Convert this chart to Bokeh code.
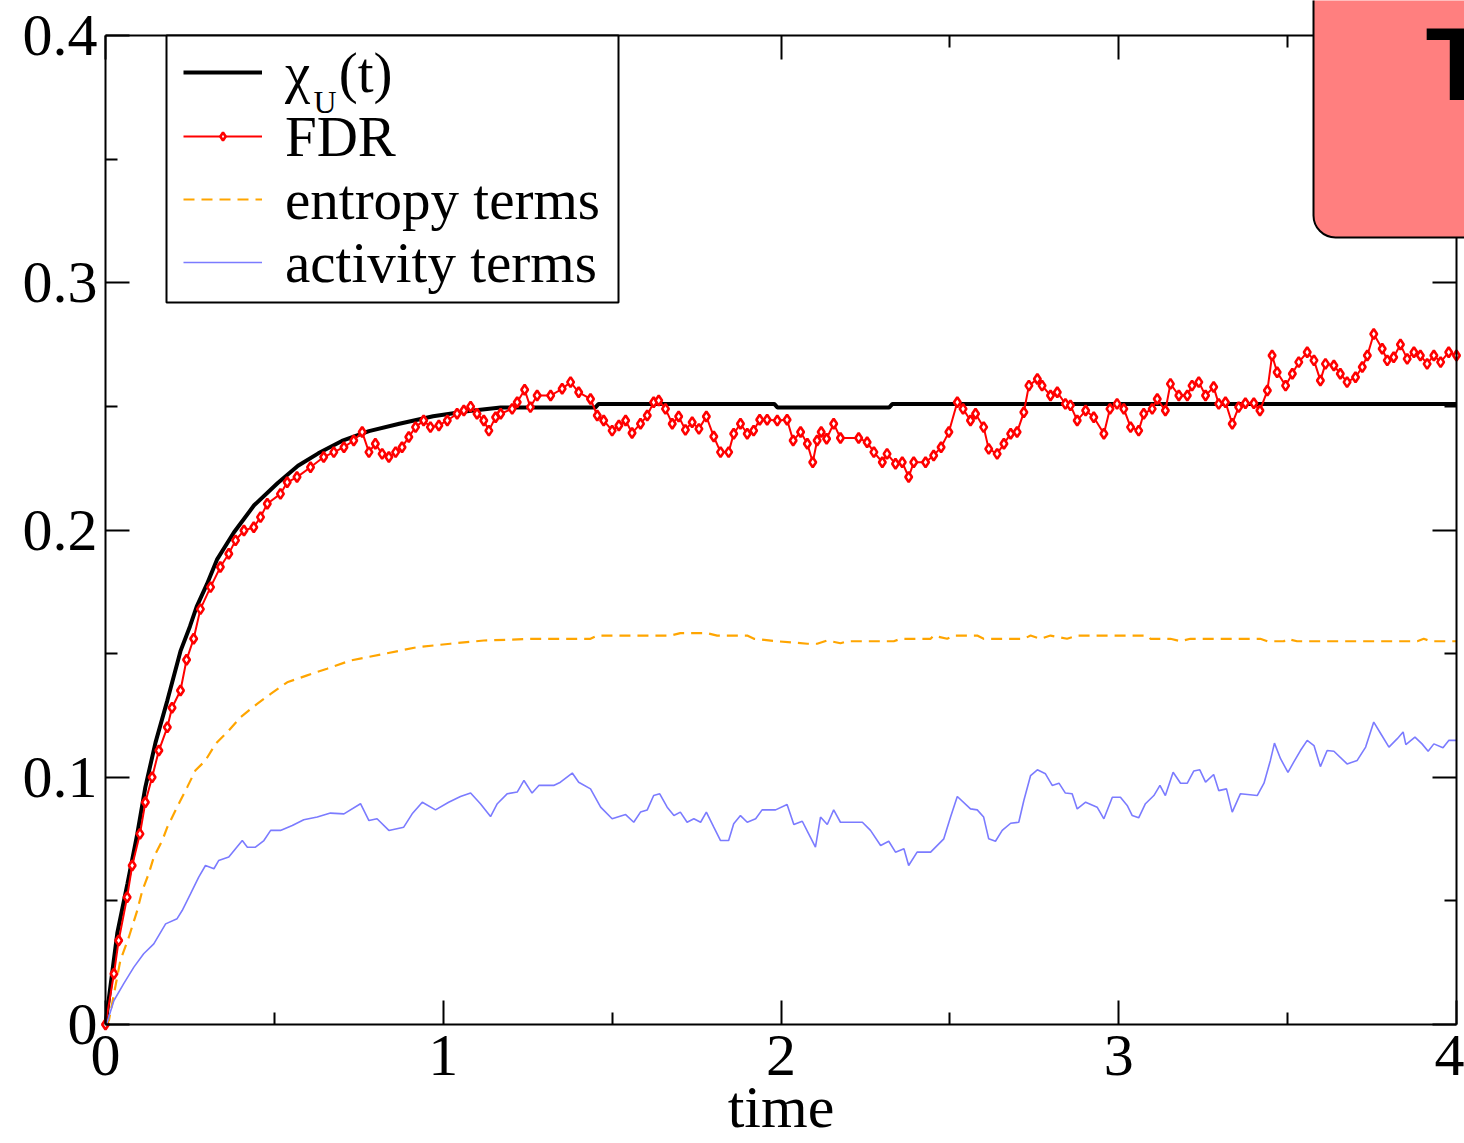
from bokeh.plotting import figure
from bokeh.models import (Range1d, FixedTicker, LinearAxis, Legend, LegendItem,
                          Label, BoxAnnotation, CustomJSTickFormatter)
from bokeh.embed import file_html
from bokeh.resources import INLINE

# ---------------- data ----------------
x_ticks = [0, 1, 2, 3, 4]
x_minor = [0.5, 1.5, 2.5, 3.5]
x_tick_labels = ["0", "1", "2", "3", "4"]
y_ticks = [0, 0.1, 0.2, 0.3, 0.4]
y_minor = [0.05, 0.15, 0.25, 0.35]
y_tick_labels = ["0", "0.1", "0.2", "0.3", "0.4"]

t_chi = [0, 0.035, 0.065, 0.094, 0.118, 0.148, 0.183, 0.222, 0.25, 0.27, 0.30, 0.33,
         0.38, 0.44, 0.51, 0.57, 0.63, 0.70, 0.78, 0.87, 0.97, 1.07, 1.17, 1.45, 1.46,
         1.98, 1.99, 2.32, 2.33, 4.0]
chi_u = [0, 0.037, 0.057, 0.077, 0.096, 0.114, 0.131, 0.151, 0.161, 0.169, 0.178, 0.188,
         0.199, 0.210, 0.219, 0.226, 0.231, 0.236, 0.240, 0.243, 0.246, 0.248, 0.2495, 0.2495, 0.251,
         0.251, 0.2495, 0.2495, 0.251, 0.251]

t_fdr = [0, 0.025, 0.039, 0.064, 0.079, 0.102, 0.118, 0.138, 0.158, 0.183, 0.197, 0.222,
         0.240, 0.261, 0.281, 0.311, 0.340, 0.365, 0.385, 0.410, 0.439, 0.459, 0.479, 0.518,
         0.538, 0.567, 0.607, 0.646, 0.676, 0.706, 0.735, 0.760, 0.780, 0.799, 0.819, 0.839,
         0.859, 0.878, 0.898, 0.918, 0.942, 0.962, 0.987, 1.012, 1.041, 1.061, 1.081, 1.100,
         1.120, 1.135, 1.155, 1.170, 1.204, 1.219, 1.241, 1.258, 1.278, 1.318, 1.352, 1.377,
         1.401, 1.436, 1.456, 1.475, 1.500, 1.520, 1.540, 1.559, 1.584, 1.604, 1.623, 1.638,
         1.658, 1.678, 1.697, 1.717, 1.737, 1.757, 1.779, 1.801, 1.821, 1.845, 1.860, 1.880,
         1.900, 1.919, 1.937, 1.959, 1.989, 2.018, 2.036, 2.058, 2.078, 2.094, 2.107, 2.119,
         2.135, 2.156, 2.176, 2.230, 2.255, 2.275, 2.300, 2.314, 2.339, 2.359, 2.378, 2.393,
         2.428, 2.452, 2.474, 2.497, 2.522, 2.539, 2.561, 2.576, 2.600, 2.615, 2.640, 2.660,
         2.680, 2.699, 2.719, 2.734, 2.759, 2.773, 2.798, 2.818, 2.842, 2.857, 2.877, 2.902,
         2.926, 2.956, 2.974, 2.995, 3.015, 3.035, 3.059, 3.074, 3.099, 3.114, 3.138, 3.153,
         3.178, 3.203, 3.217, 3.237, 3.257, 3.281, 3.296, 3.316, 3.336, 3.355, 3.375, 3.400,
         3.418, 3.440, 3.454, 3.469, 3.494, 3.514, 3.533, 3.558, 3.578, 3.597, 3.612, 3.637,
         3.656, 3.676, 3.701, 3.721, 3.736, 3.755, 3.780, 3.795, 3.814, 3.834, 3.854, 3.874,
         3.893, 3.913, 3.933, 3.953, 3.977, 4.000]
fdr = [0, 0.0205, 0.034, 0.0515, 0.0643, 0.0771, 0.0899, 0.100, 0.1108, 0.1202, 0.1281, 0.1351,
       0.1475, 0.156, 0.168, 0.1769, 0.185, 0.1904, 0.1958, 0.1998, 0.2011, 0.2052, 0.2106, 0.2146,
       0.2193, 0.2214, 0.2254, 0.2295, 0.2315, 0.2335, 0.2362, 0.2396, 0.2315, 0.2349, 0.2308, 0.2295,
       0.2315, 0.2335, 0.2376, 0.2416, 0.2443, 0.2416, 0.2423, 0.2443, 0.247, 0.2483, 0.2499, 0.247,
       0.2443, 0.2402, 0.2456, 0.247, 0.249, 0.2517, 0.2567, 0.2497, 0.2544, 0.2544, 0.2571, 0.2598,
       0.2557, 0.253, 0.2463, 0.2443, 0.2402, 0.2423, 0.2443, 0.2392, 0.243, 0.2463, 0.2517, 0.2524,
       0.249, 0.243, 0.2459, 0.2405, 0.2436, 0.2409, 0.2459, 0.2378, 0.2315, 0.2315, 0.2389, 0.243,
       0.2389, 0.2402, 0.2446, 0.2446, 0.2443, 0.2446, 0.2362, 0.2396, 0.2349, 0.2274, 0.2362, 0.2396,
       0.2369, 0.243, 0.2372, 0.2372, 0.2355, 0.2315, 0.2274, 0.2308, 0.2268, 0.2274, 0.2214, 0.2274,
       0.2274, 0.2301, 0.2335, 0.2396, 0.2517, 0.249, 0.2443, 0.247, 0.2416, 0.2328, 0.2308, 0.2349,
       0.2389, 0.2396, 0.2476, 0.2584, 0.2611, 0.2584, 0.2544, 0.2557, 0.251, 0.2504, 0.2443, 0.2483,
       0.2456, 0.2389, 0.249, 0.251, 0.249, 0.2416, 0.2402, 0.247, 0.249, 0.253, 0.2483, 0.2591,
       0.2544, 0.2544, 0.2584, 0.2598, 0.2544, 0.2578, 0.251, 0.2517, 0.243, 0.2497, 0.2513, 0.2513,
       0.2483, 0.2564, 0.2706, 0.2638, 0.2584, 0.2632, 0.2679, 0.2719, 0.2686, 0.2605, 0.2672, 0.2665,
       0.2632, 0.2598, 0.2618, 0.2659, 0.2706, 0.2793, 0.2733, 0.2686, 0.2699, 0.275, 0.2692, 0.2719,
       0.2706, 0.2672, 0.2706, 0.2679, 0.2719, 0.2706]

t_ent = [0, 0.01, 0.044, 0.069, 0.094, 0.109, 0.128, 0.143, 0.168, 0.183, 0.212, 0.242, 0.266,
         0.296, 0.326, 0.365, 0.40, 0.449, 0.489, 0.538, 0.597, 0.656, 0.725, 0.824, 0.923,
         1.021, 1.12, 1.268, 1.436, 1.456, 1.673, 1.702, 1.781, 1.811, 1.90, 1.92, 1.989, 2.078,
         2.107, 2.136, 2.176, 2.196, 2.334, 2.354, 2.443, 2.452, 2.492, 2.512, 2.581, 2.60,
         2.719, 2.739, 2.768, 2.798, 2.847, 2.877, 3.084, 3.094, 3.153, 3.183, 3.212, 3.419,
         3.44, 3.489, 3.499, 3.528, 3.884, 3.903, 3.923, 4.0]
entropy = [0, 0.0016, 0.0259, 0.0353, 0.0461, 0.0542, 0.061, 0.0677, 0.0744, 0.0798, 0.0879, 0.096,
           0.1027, 0.1068, 0.1135, 0.1189, 0.1243, 0.1297, 0.1337, 0.1384, 0.1412, 0.1439, 0.1472,
           0.1499, 0.1526, 0.154, 0.1553, 0.156, 0.156, 0.1573, 0.1573, 0.1583, 0.1583, 0.1573,
           0.1573, 0.156, 0.155, 0.154, 0.154, 0.1553, 0.1542, 0.155, 0.155, 0.156, 0.156, 0.1573,
           0.156, 0.1573, 0.1573, 0.156, 0.156, 0.1573, 0.156, 0.1573, 0.156, 0.1573, 0.1573, 0.156,
           0.156, 0.155, 0.156, 0.156, 0.155, 0.155, 0.156, 0.155, 0.155, 0.156, 0.155, 0.155]

t_act = [0, 0.005, 0.025, 0.054, 0.084, 0.113, 0.143, 0.178, 0.212, 0.227, 0.252, 0.276, 0.296,
         0.321, 0.335, 0.365, 0.385, 0.405, 0.42, 0.444, 0.469, 0.489, 0.518, 0.553, 0.587, 0.627,
         0.666, 0.706, 0.755, 0.78, 0.804, 0.839, 0.883, 0.908, 0.938, 0.977, 1.016, 1.051, 1.081,
         1.11, 1.14, 1.16, 1.189, 1.219, 1.239, 1.263, 1.283, 1.327, 1.347, 1.382, 1.401, 1.436,
         1.466, 1.5, 1.54, 1.564, 1.584, 1.604, 1.623, 1.641, 1.663, 1.683, 1.702, 1.722, 1.742,
         1.762, 1.779, 1.801, 1.821, 1.845, 1.86, 1.88, 1.9, 1.925, 1.944, 1.984, 2.018, 2.038,
         2.063, 2.082, 2.102, 2.117, 2.137, 2.156, 2.176, 2.241, 2.265, 2.295, 2.319, 2.339, 2.364,
         2.378, 2.403, 2.443, 2.482, 2.502, 2.522, 2.561, 2.581, 2.6, 2.615, 2.635, 2.655, 2.68,
         2.704, 2.719, 2.739, 2.759, 2.783, 2.803, 2.823, 2.842, 2.862, 2.877, 2.902, 2.936, 2.956,
         2.981, 3.005, 3.025, 3.04, 3.059, 3.079, 3.104, 3.122, 3.138, 3.161, 3.183, 3.203, 3.222,
         3.24, 3.257, 3.281, 3.296, 3.319, 3.336, 3.36, 3.41, 3.43, 3.449, 3.461, 3.479, 3.501,
         3.518, 3.538, 3.558, 3.578, 3.597, 3.617, 3.637, 3.676, 3.706, 3.731, 3.755, 3.775, 3.8,
         3.824, 3.842, 3.85, 3.877, 3.898, 3.916, 3.933, 3.96, 3.977, 4.0]
activity = [0, 0.001, 0.0097, 0.0165, 0.0232, 0.0286, 0.0326, 0.0407, 0.0428, 0.0461, 0.0529, 0.0596,
            0.0643, 0.063, 0.0663, 0.0677, 0.0711, 0.0744, 0.0717, 0.0717, 0.0744, 0.0785, 0.0785,
            0.0805, 0.0828, 0.0839, 0.0855, 0.0852, 0.0893, 0.0825, 0.0832, 0.0785, 0.0798, 0.0852,
            0.0899, 0.0868, 0.0899, 0.0922, 0.0936, 0.0893, 0.0841, 0.0893, 0.0933, 0.094, 0.0987,
            0.0936, 0.0967, 0.0967, 0.098, 0.1017, 0.098, 0.0953, 0.0879, 0.0832, 0.0849, 0.0818,
            0.0859, 0.0868, 0.0926, 0.0933, 0.0879, 0.0845, 0.0859, 0.0818, 0.0832, 0.0818, 0.0859,
            0.0798, 0.0744, 0.0744, 0.0812, 0.0845, 0.0818, 0.0832, 0.0868, 0.0868, 0.089, 0.0809,
            0.0822, 0.0771, 0.0717, 0.0839, 0.0809, 0.0868, 0.0818, 0.0818, 0.0785, 0.0724, 0.0741,
            0.0697, 0.0711, 0.0643, 0.0697, 0.0697, 0.0751, 0.0839, 0.0922, 0.0872, 0.0868, 0.0839,
            0.0751, 0.0741, 0.0785, 0.0814, 0.0818, 0.0906, 0.1007, 0.103, 0.1014, 0.0967, 0.0976,
            0.0936, 0.0933, 0.0872, 0.0899, 0.0879, 0.0832, 0.0919, 0.0919, 0.0886, 0.0845, 0.0836,
            0.0893, 0.0926, 0.0967, 0.0926, 0.102, 0.0976, 0.0976, 0.1025, 0.103, 0.098, 0.1011,
            0.0946, 0.0953, 0.0859, 0.0933, 0.0926, 0.0976, 0.1068, 0.1138, 0.1075, 0.102, 0.1061,
            0.1108, 0.1149, 0.1128, 0.1043, 0.1108, 0.1105, 0.1054, 0.1068, 0.1122, 0.1223, 0.1178,
            0.1122, 0.1155, 0.1183, 0.1132, 0.1162, 0.1135, 0.1105, 0.1135, 0.1119, 0.1149, 0.1149]

legend_labels = ["\u03c7\u2002(t)", "FDR", "entropy terms", "activity terms"]

# ---------------- layout (pixels) ----------------
W, H = 1464, 1143
FRAME_L, FRAME_R, FRAME_T, FRAME_B = 105, 1456, 35, 1024   # where the axes box sits
LEG_L, LEG_R, LEG_T, LEG_B = 166, 618, 35, 302             # legend box
ROW_BASELINES = [94, 158, 221, 284]                        # legend text baselines
ROW_H, ROW_BASE = 65.25, 54.75                             # measured legend row metrics
SUB_DROP = 18                                              # subscript drop below baseline

x0, x1 = x_ticks[0], x_ticks[-1]
y0, y1 = y_ticks[0], y_ticks[-1]
px_per_x = (FRAME_R - FRAME_L) / (x1 - x0)
px_per_y = (FRAME_B - FRAME_T) / (y1 - y0)
x_range = Range1d(x0 - FRAME_L / px_per_x, x1 + (W - FRAME_R) / px_per_x)
y_range = Range1d(y0 - (H - FRAME_B) / px_per_y, y1 + FRAME_T / px_per_y)

def sx(px):   # canvas pixel -> data x (for annotations only)
    return x0 + (px - FRAME_L) / px_per_x

def sy(py):   # canvas pixel -> data y (for annotations only)
    return y0 + (FRAME_B - py) / px_per_y

SERIF = "Liberation Serif"
p = figure(width=W, height=H, output_backend="svg", toolbar_location=None,
           x_range=x_range, y_range=y_range, x_axis_label="time",
           min_border=0)
p.background_fill_color = "white"
p.border_fill_color = "white"
p.grid.visible = False
p.outline_line_color = None

def style_axis(ax, show_labels):
    ax.axis_line_color = "black"
    ax.axis_line_width = 2
    ax.major_tick_line_color = "black"
    ax.major_tick_line_width = 2
    ax.minor_tick_line_color = "black"
    ax.minor_tick_line_width = 2
    ax.major_tick_in = 24
    ax.major_tick_out = 0
    ax.minor_tick_in = 12
    ax.minor_tick_out = 0
    if show_labels:
        ax.major_label_text_font = SERIF
        ax.major_label_text_font_size = "60px"
        ax.major_label_text_color = "black"
    else:
        ax.formatter = CustomJSTickFormatter(code="return ''")
        ax.major_label_text_font_size = "0px"
        ax.major_label_standoff = 0

xb = p.xaxis[0]
yl = p.yaxis[0]
xb.ticker = FixedTicker(ticks=x_ticks, minor_ticks=x_minor)
yl.ticker = FixedTicker(ticks=y_ticks, minor_ticks=y_minor)
xb.major_label_overrides = {t: s for t, s in zip(x_ticks, x_tick_labels)}
yl.major_label_overrides = {t: s for t, s in zip(y_ticks, y_tick_labels)}
style_axis(xb, True)
style_axis(yl, True)
xb.fixed_location = y0
xb.bounds = (x0, x1)
yl.fixed_location = x0
yl.bounds = (y0, y1)
xb.major_label_standoff = 11
yl.major_label_standoff = 8
xb.axis_label_text_font = SERIF
xb.axis_label_text_font_size = "60px"
xb.axis_label_text_font_style = "normal"
xb.axis_label_text_color = "black"
xb.axis_label_standoff = -4

xt = LinearAxis(ticker=FixedTicker(ticks=x_ticks, minor_ticks=x_minor),
                fixed_location=y1, bounds=(x0, x1))
yr = LinearAxis(ticker=FixedTicker(ticks=y_ticks, minor_ticks=y_minor),
                fixed_location=x1, bounds=(y0, y1))
style_axis(xt, False)
style_axis(yr, False)
p.add_layout(xt, "above")
p.add_layout(yr, "right")

r_chi = p.line(t_chi, chi_u, line_color="black", line_width=4)
r_fdr_l = p.line(t_fdr, fdr, line_color="red", line_width=2)
r_fdr_m = p.scatter(t_fdr, fdr, marker="diamond", size=10, line_color="red",
                    line_width=2.6, fill_color="white")
r_ent = p.line(t_ent, entropy, line_color="#ffa500", line_width=2.2, line_dash="11 7")
r_act = p.line(t_act, activity, line_color="#7b7bff", line_width=1.6)

# legend frame (white box with black border, covering the top ticks)
p.add_layout(BoxAnnotation(left=sx(LEG_L), right=sx(LEG_R), top=sy(LEG_T), bottom=sy(LEG_B),
                           fill_color="white", fill_alpha=1, line_color="black",
                           line_alpha=1, line_width=2, level="annotation"))

# one legend per row, so that every row sits where it does in the original
row_renderers = [[r_chi], [r_fdr_l, r_fdr_m], [r_ent], [r_act]]
for lab, rends, base in zip(legend_labels, row_renderers, ROW_BASELINES):
    lg = Legend(items=[LegendItem(label=lab, renderers=rends)],
                location=(183, H - (base - ROW_BASE + ROW_H)))
    lg.margin = 0
    lg.padding = 0
    lg.spacing = 0
    lg.glyph_width = 79
    lg.label_standoff = 23
    lg.label_text_font = SERIF
    lg.label_text_font_size = "57px"
    lg.label_text_color = "black"
    lg.border_line_color = None
    lg.background_fill_alpha = 0
    p.add_layout(lg)

# subscript of chi in the legend (anchored at the middle of its text box)
sub_base = ROW_BASELINES[0] + SUB_DROP
p.add_layout(Label(x=sx(313), y=sy(sub_base - 11), text="U", level="overlay",
                   text_font=SERIF, text_font_size="32px", text_color="black",
                   text_baseline="middle", text_align="left"))

# red panel in top-right corner
p.add_layout(BoxAnnotation(left=sx(1313), right=sx(1600), bottom=sy(237), top=sy(-100),
                           fill_color="#ff7f7f", fill_alpha=1, level="overlay",
                           line_color="black", line_alpha=1, line_width=2, border_radius=22))
p.add_layout(Label(x=sx(1425), y=sy(63), text="T", level="overlay",
                   text_font="Liberation Sans", text_font_style="bold",
                   text_font_size="104px", text_color="black",
                   text_baseline="middle", text_align="left"))

open("out.html", "w").write(file_html(p, INLINE))
